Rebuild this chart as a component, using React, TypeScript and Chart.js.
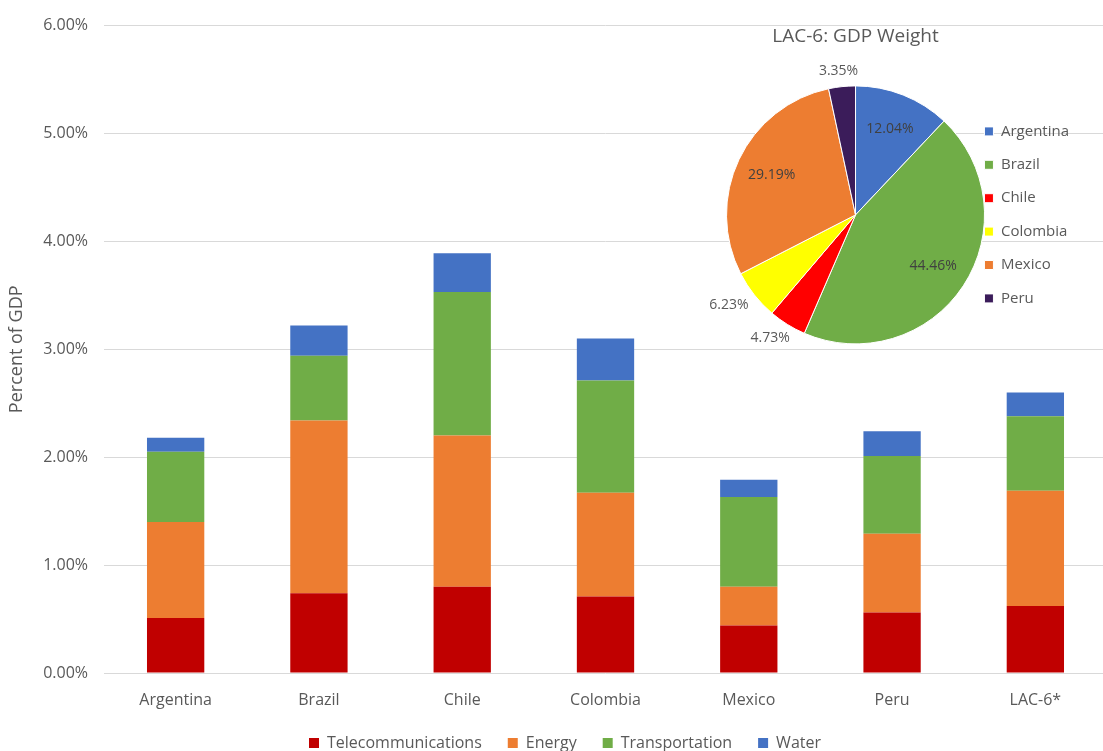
import React, { useEffect, useRef } from "react";
import { Chart, registerables } from "chart.js";

Chart.register(...registerables);

const categories = ["Argentina", "Brazil", "Chile", "Colombia", "Mexico", "Peru", "LAC-6*"];
const telecom = [0.51, 0.74, 0.8, 0.71, 0.44, 0.56, 0.62];
const energy = [0.89, 1.6, 1.4, 0.96, 0.36, 0.73, 1.07];
const transport = [0.65, 0.6, 1.33, 1.04, 0.83, 0.72, 0.69];
const water = [0.13, 0.28, 0.36, 0.39, 0.16, 0.23, 0.22];
const yTicks = [0, 1, 2, 3, 4, 5, 6];

const pieLabels = ["Argentina", "Brazil", "Chile", "Colombia", "Mexico", "Peru"];
const pieValues = [12.04, 44.46, 4.73, 6.23, 29.19, 3.35];
const pieColors = ["#4472C4", "#70AD47", "#FF0000", "#FFFF00", "#ED7D31", "#3B1C5A"];

const FONT = "'Open Sans', 'Noto Sans', sans-serif";
const TXT = "#595959";

const pieLabelPlugin = {
  id: "pieLabels",
  afterDatasetsDraw(chart: any) {
    const meta = chart.getDatasetMeta(0);
    const ctx = chart.ctx;
    ctx.save();
    ctx.font = `14px ${FONT}`;
    ctx.textAlign = "center";
    ctx.textBaseline = "middle";
    meta.data.forEach((arc: any, i: number) => {
      const v = pieValues[i];
      const p = arc.getProps(["x", "y", "startAngle", "endAngle", "outerRadius"], true);
      const mid = (p.startAngle + p.endAngle) / 2;
      const c = Math.cos(mid);
      const s = Math.sin(mid);
      const text = v.toFixed(2) + "%";
      let x: number, y: number;
      if (v < 7) {
        const w = ctx.measureText(text).width;
        const r = p.outerRadius + 7;
        x = p.x + c * r + c * (w / 2) * 1.3;
        y = p.y + s * r + s * 9;
        ctx.fillStyle = TXT;
      } else {
        const r = p.outerRadius * 0.72;
        x = p.x + c * r;
        y = p.y + s * r;
        ctx.fillStyle = "#404040";
      }
      ctx.fillText(text, x, y);
    });
    ctx.restore();
  },
};

export default function App() {
  const barRef = useRef<HTMLCanvasElement>(null);
  const pieRef = useRef<HTMLCanvasElement>(null);

  useEffect(() => {
    Chart.defaults.font.family = FONT;
    const bar = new Chart(barRef.current!, {
      type: "bar",
      data: {
        labels: categories,
        datasets: [
          { label: "Telecommunications", data: telecom, backgroundColor: "#C00000" },
          { label: "Energy", data: energy, backgroundColor: "#ED7D31" },
          { label: "Transportation", data: transport, backgroundColor: "#70AD47" },
          { label: "Water", data: water, backgroundColor: "#4472C4" },
        ],
      },
      options: {
        animation: false,
        responsive: true,
        maintainAspectRatio: false,
        layout: { padding: { top: 25, left: 23, right: 3, bottom: 0 } },
        datasets: { bar: { categoryPercentage: 1, barPercentage: 0.4 } },
        plugins: {
          tooltip: { enabled: false },
          legend: {
            position: "bottom",
            labels: {
              boxWidth: 10,
              boxHeight: 10,
              padding: 26,
              color: TXT,
              font: { size: 16, family: FONT },
            },
          },
        },
        scales: {
          x: {
            stacked: true,
            grid: { display: false, drawTicks: false },
            border: { display: false },
            ticks: { color: TXT, font: { size: 16, family: FONT }, padding: 18 },
            afterFit: (scale: any) => {
              scale.height = 36;
            },
          },
          y: {
            stacked: true,
            min: 0,
            max: 6,
            afterBuildTicks: (scale: any) => {
              scale.ticks = yTicks.map((v) => ({ value: v }));
            },
            afterFit: (scale: any) => {
              scale.width = 81;
            },
            ticks: {
              color: TXT,
              font: { size: 16, family: FONT },
              padding: 16,
              callback: (v: any) => Number(v).toFixed(2) + "%",
            },
            grid: { color: "#d9d9d9", drawTicks: false },
            border: { display: false },
            title: {
              display: true,
              text: "Percent of GDP",
              color: TXT,
              font: { size: 18, family: FONT },
              padding: { top: -17, bottom: 10 },
            },
          },
        },
      },
    });

    const pie = new Chart(pieRef.current!, {
      type: "pie",
      data: {
        labels: pieLabels,
        datasets: [
          {
            data: pieValues,
            backgroundColor: pieColors,
            borderColor: "#ffffff",
            borderWidth: 1,
            radius: 129,
            clip: false,
          } as any,
        ],
      },
      options: {
        animation: false,
        responsive: true,
        maintainAspectRatio: false,
        layout: { padding: { left: 45, right: 24, top: 0, bottom: 11 } },
        plugins: {
          tooltip: { enabled: false },
          title: {
            display: true,
            text: "LAC-6: GDP Weight",
            fullSize: false,
            color: TXT,
            font: { size: 19, weight: "normal", family: FONT },
            padding: { top: 5, bottom: 38 },
          },
          legend: {
            position: "right",
            fullSize: false,
            labels: {
              boxWidth: 9,
              boxHeight: 9,
              padding: 18.4,
              color: TXT,
              font: { size: 15, family: FONT },
            },
          },
        },
      },
      plugins: [pieLabelPlugin],
    });

    return () => {
      bar.destroy();
      pie.destroy();
    };
  }, []);

  return (
    <div
      style={{
        position: "fixed",
        left: 0,
        top: 0,
        width: 1103,
        height: 751,
        overflow: "hidden",
        background: "#ffffff",
      }}
    >
      <div style={{ position: "absolute", left: 0, top: 0, width: 1110, height: 761 }}>
        <canvas ref={barRef} />
      </div>
      <div style={{ position: "absolute", left: 700, top: 20, width: 403, height: 335 }}>
        <canvas ref={pieRef} />
      </div>
    </div>
  );
}
